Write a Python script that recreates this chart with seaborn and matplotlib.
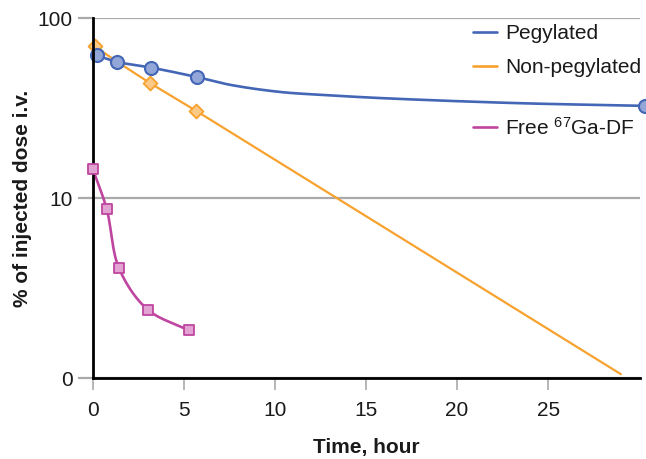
import numpy as np
import matplotlib
matplotlib.use("Agg")
import matplotlib.pyplot as plt
import seaborn as sns
from matplotlib.lines import Line2D

# ---- data ----
peg_t = [0.2, 1.34, 3.2, 5.7, 30.3]
peg_v = [62.0, 57.0, 53.0, 47.0, 32.5]
# pegylated curve
peg_curve_t = [0.2, 1.34, 3.2, 5.7, 7.5, 10.3, 13.0, 15.8, 23.1, 30.3]
peg_curve_v = [62.0, 57.0, 53.0, 47.0, 42.6, 38.8, 37.2, 35.9, 33.7, 32.5]

nonpeg_t = [0.1, 1.34, 3.13, 5.64]
nonpeg_v = [69.5, 57.0, 43.5, 30.6]
nonpeg_line_t = [0.1, 1.34, 3.13, 5.64, 29.0]
nonpeg_line_v = [69.5, 57.0, 43.5, 30.6, 1.05]

free_t = [0.0, 0.75, 1.43, 3.0, 5.27]
free_v = [14.4, 8.7, 4.07, 2.4, 1.84]

x_ticks = [0, 5, 10, 15, 20, 25]
y_ticks = [1, 10, 100]
y_tick_labels = ["0", "10", "100"]

labels = ["Pegylated", "Non-pegylated", r"Free $\mathregular{^{67}}$Ga-DF"]

BLUE = "#4466b6"
BLUE_FILL = "#93a6d8"
ORANGE = "#f7a22e"
ORANGE_FILL = "#fcc986"
MAGENTA = "#bf45a0"
MAGENTA_FILL = "#e3a3d2"
GRID = "#aaaaaa"


def smooth(xs, ys, n=40, alpha=0.5):
    """Centripetal Catmull-Rom curve through the given points."""
    P = np.column_stack([xs, ys]).astype(float)
    P = np.vstack([2 * P[0] - P[1], P, 2 * P[-1] - P[-2]])
    out = []
    for i in range(1, len(P) - 2):
        p0, p1, p2, p3 = P[i - 1], P[i], P[i + 1], P[i + 2]
        t0 = 0.0
        t1 = t0 + np.linalg.norm(p1 - p0) ** alpha
        t2 = t1 + np.linalg.norm(p2 - p1) ** alpha
        t3 = t2 + np.linalg.norm(p3 - p2) ** alpha
        t = np.linspace(t1, t2, n, endpoint=False)[:, None]
        a1 = (t1 - t) / (t1 - t0) * p0 + (t - t0) / (t1 - t0) * p1
        a2 = (t2 - t) / (t2 - t1) * p1 + (t - t1) / (t2 - t1) * p2
        a3 = (t3 - t) / (t3 - t2) * p2 + (t - t2) / (t3 - t2) * p3
        b1 = (t2 - t) / (t2 - t0) * a1 + (t - t0) / (t2 - t0) * a2
        b2 = (t3 - t) / (t3 - t1) * a2 + (t - t1) / (t3 - t1) * a3
        c = (t2 - t) / (t2 - t1) * b1 + (t - t1) / (t2 - t1) * b2
        out.append(c)
    out.append(P[-2][None, :])
    return np.vstack(out)


def smooth_log(ts, vs):
    # work in approx pixel units: 18.2 px/hour, 180 px/decade
    pts = smooth(np.asarray(ts) * 18.2, np.log10(vs) * 180.0)
    return pts[:, 0] / 18.2, 10 ** (pts[:, 1] / 180.0)


sns.set_theme(style="white")
plt.rcParams["font.family"] = ["Liberation Sans", "DejaVu Sans"]
plt.rcParams["mathtext.default"] = "regular"

fig = plt.figure(figsize=(6.46, 4.59), dpi=100)
ax = fig.add_axes([93 / 646, 1 - 378 / 459, (640 - 93) / 646, (378 - 18) / 459])
ax.set_yscale("log")

# lines
sns.lineplot(x=nonpeg_line_t, y=nonpeg_line_v, ax=ax, color=ORANGE, linewidth=1.6,
             sort=False, estimator=None, zorder=3)
pt, pv = smooth_log(peg_curve_t, peg_curve_v)
sns.lineplot(x=pt, y=pv, ax=ax, color=BLUE, linewidth=1.9, sort=False,
             estimator=None, zorder=4)
ft, fv = smooth_log(free_t, free_v)
sns.lineplot(x=ft, y=fv, ax=ax, color=MAGENTA, linewidth=1.9, sort=False,
             estimator=None, zorder=4)

# markers
sns.scatterplot(x=nonpeg_t, y=nonpeg_v, ax=ax, marker="D", s=50, color=ORANGE_FILL,
                edgecolor=ORANGE, linewidth=1.3, zorder=5, clip_on=False)
sns.scatterplot(x=peg_t, y=peg_v, ax=ax, marker="o", s=88, color=BLUE_FILL,
                edgecolor=BLUE, linewidth=1.5, zorder=6, clip_on=False)
sns.scatterplot(x=free_t, y=free_v, ax=ax, marker="s", s=45, color=MAGENTA_FILL,
                edgecolor=MAGENTA, linewidth=1.3, zorder=8, clip_on=False)

ax.set_xlim(0, 30.05)
ax.set_ylim(1, 100)
ax.set_xticks(x_ticks)
ax.set_xticklabels([str(v) for v in x_ticks])
ax.set_yticks(y_ticks)
ax.set_yticklabels(y_tick_labels)
ax.yaxis.set_minor_locator(matplotlib.ticker.NullLocator())

ax.grid(False)
ax.yaxis.grid(True, color=GRID, linewidth=1.6)
ax.set_axisbelow(True)
for s in ["top", "right"]:
    ax.spines[s].set_visible(False)
for s in ["left", "bottom"]:
    ax.spines[s].set_color("black")
    ax.spines[s].set_linewidth(2.0)
    ax.spines[s].set_zorder(7)

ax.tick_params(axis="y", which="major", length=10.8, width=1.6, color=GRID,
               pad=4, labelsize=15, labelcolor="#1a1a1a", left=True)
ax.tick_params(axis="x", which="major", length=8.6, width=1.2, color=GRID,
               pad=8, labelsize=15, labelcolor="#1a1a1a", bottom=True)

ax.set_xlabel("Time, hour", fontsize=15, fontweight="bold", labelpad=13, color="#1a1a1a")
ax.set_ylabel("% of injected dose i.v.", fontsize=15, fontweight="bold", labelpad=4,
              color="#1a1a1a")

h1 = [Line2D([], [], color=BLUE, linewidth=1.9), Line2D([], [], color=ORANGE, linewidth=1.9)]
leg1 = fig.legend(h1, labels[:2], loc="center left",
                  bbox_to_anchor=(473 / 646, 1 - 50.4 / 459),
                  frameon=False, fontsize=15, handlelength=1.15, handletextpad=0.38,
                  borderpad=0, borderaxespad=0, labelspacing=0.73)
h2 = [Line2D([], [], color=MAGENTA, linewidth=1.9)]
leg2 = fig.legend(h2, labels[2:], loc="center left",
                  bbox_to_anchor=(473 / 646, 1 - 127.7 / 459),
                  frameon=False, fontsize=15, handlelength=1.15, handletextpad=0.38,
                  borderpad=0, borderaxespad=0)
for leg in (leg1, leg2):
    for t in leg.get_texts():
        t.set_color("#1a1a1a")

fig.savefig("out.png", dpi=100)
